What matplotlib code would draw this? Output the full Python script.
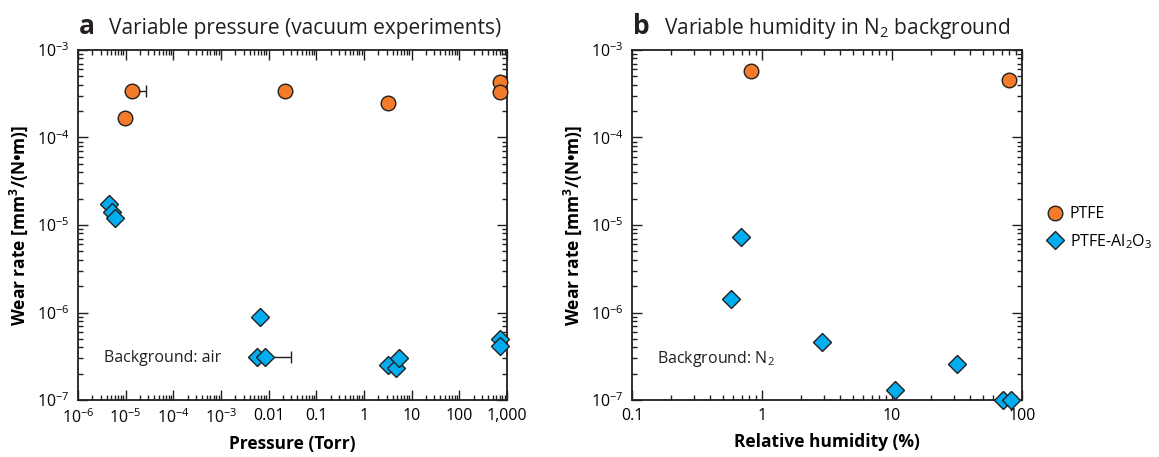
import matplotlib
matplotlib.use("Agg")
import matplotlib.pyplot as plt
from matplotlib.ticker import FixedLocator, LogLocator, NullFormatter
from matplotlib.lines import Line2D

plt.rcParams['font.family'] = ['Open Sans', 'DejaVu Sans']
plt.rcParams['mathtext.fontset'] = 'custom'
plt.rcParams['mathtext.rm'] = 'Open Sans'
plt.rcParams['mathtext.default'] = 'regular'

# panel a: variable pressure
ptfe_p = [1.38e-5, 9.5e-6, 0.0222, 3.13, 730, 730]
ptfe_p_wear = [3.4e-4, 1.67e-4, 3.4e-4, 2.46e-4, 4.35e-4, 3.34e-4]
al_p = [4.5e-6, 5.2e-6, 5.9e-6, 6.6e-3, 5.6e-3, 8.5e-3, 3.13, 4.7, 5.5, 730, 730]
al_p_wear = [1.75e-5, 1.39e-5, 1.2e-5, 8.9e-7, 3.1e-7, 3.1e-7, 2.49e-7, 2.32e-7, 3.0e-7, 5.0e-7, 4.1e-7]
# points with one-sided pressure error bars (x, wear, upper x)
ptfe_err = (1.38e-5, 3.4e-4, 2.7e-5)
al_err = (8.5e-3, 3.1e-7, 0.0295)

# panel b: variable humidity
ptfe_rh = [0.82, 79.8]
ptfe_rh_wear = [5.75e-4, 4.54e-4]
al_rh = [0.69, 0.58, 2.88, 10.6, 31.5, 72, 82]
al_rh_wear = [7.2e-6, 1.44e-6, 4.57e-7, 1.3e-7, 2.58e-7, 1.0e-7, 1.0e-7]

p_ticks = [1e-6, 1e-5, 1e-4, 1e-3, 1e-2, 1e-1, 1, 10, 100, 1000]
p_labels = ['$10^{-6}$', '$10^{-5}$', '$10^{-4}$', '$10^{-3}$', '0.01', '0.1', '1', '10', '100', '1,000']
rh_ticks = [0.1, 1, 10, 100]
rh_labels = ['0.1', '1', '10', '100']
w_ticks = [1e-7, 1e-6, 1e-5, 1e-4, 1e-3]
w_labels = ['$10^{-7}$', '$10^{-6}$', '$10^{-5}$', '$10^{-4}$', '$10^{-3}$']

orange = '#f47b2a'
blue = '#00aeef'
edge = '#231f20'
circ = dict(marker='o', ms=10.5, mfc=orange, mec=edge, mew=1.0, ls='none', zorder=3)
diam = dict(marker='D', ms=9.5, mfc=blue, mec=edge, mew=1.0, ls='none', zorder=3)

fig = plt.figure(figsize=(11.59, 4.57), dpi=100)
ax1 = fig.add_axes([0.0673, 0.1247, 0.3701, 0.7659])
ax2 = fig.add_axes([0.5453, 0.1247, 0.3365, 0.7659])


def style(ax, xlim, xticks, xlabels, xlabel):
    ax.set_xscale('log')
    ax.set_yscale('log')
    ax.set_xlim(*xlim)
    ax.set_ylim(1e-7, 1e-3)
    ax.xaxis.set_major_locator(FixedLocator(xticks))
    ax.set_xticklabels(xlabels)
    ax.yaxis.set_major_locator(FixedLocator(w_ticks))
    ax.set_yticklabels(w_labels)
    ax.xaxis.set_minor_locator(LogLocator(base=10, subs=range(2, 10), numticks=20))
    ax.yaxis.set_minor_locator(LogLocator(base=10, subs=range(2, 10), numticks=20))
    ax.xaxis.set_minor_formatter(NullFormatter())
    ax.yaxis.set_minor_formatter(NullFormatter())
    ax.tick_params(which='both', direction='in', top=True, right=True,
                   color='#231f20', width=1.0, labelsize=11.5, pad=6)
    ax.tick_params(which='major', length=7)
    ax.tick_params(which='minor', length=3.5)
    for s in ax.spines.values():
        s.set_linewidth(1.3)
        s.set_color('#231f20')
    ax.set_xlabel(xlabel, fontsize=12.5, fontweight='bold', labelpad=6)
    ax.set_ylabel('Wear rate [mm$^{3}$/(N•m)]', fontsize=12.5, fontweight='bold', labelpad=5)


style(ax1, (1e-6, 1000), p_ticks, p_labels, 'Pressure (Torr)')
style(ax2, (0.1, 100), rh_ticks, rh_labels, 'Relative humidity (%)')

# error bars drawn beneath markers
for (x, y, xr) in (ptfe_err, al_err):
    ax1.errorbar([x], [y], xerr=[[0], [xr - x]], fmt='none', ecolor=edge,
                 elinewidth=1.0, capsize=4, capthick=1.0, zorder=2)

ax1.plot(ptfe_p, ptfe_p_wear, **circ)
ax1.plot(al_p, al_p_wear, **diam)
ax2.plot(ptfe_rh, ptfe_rh_wear, **circ)
ax2.plot(al_rh, al_rh_wear, **diam)
for ax in (ax1, ax2):
    for ln in ax.lines:
        ln.set_clip_on(False)

ax1.text(0.06, 0.11, 'Background: air', transform=ax1.transAxes, fontsize=11.5, color='#231f20')
ax2.text(0.065, 0.105, 'Background: N$_2$', transform=ax2.transAxes, fontsize=11.5, color='#231f20')

# panel titles
fig.text(0.068, 0.925, 'a', fontsize=19, fontweight='bold', color='#231f20')
fig.text(0.094, 0.925, 'Variable pressure (vacuum experiments)', fontsize=15, color='#231f20')
fig.text(0.546, 0.925, 'b', fontsize=19, fontweight='bold', color='#231f20')
fig.text(0.573, 0.925, 'Variable humidity in N$_2$ background', fontsize=15, color='#231f20')

handles = [Line2D([], [], **circ), Line2D([], [], **diam)]
fig.legend(handles, ['PTFE', 'PTFE-Al$_2$O$_3$'], loc='center left',
           bbox_to_anchor=(0.89, 0.50), frameon=False, fontsize=11.5,
           handletextpad=0.3, labelspacing=0.6, handlelength=1.2)

fig.savefig('out.png', dpi=100)
